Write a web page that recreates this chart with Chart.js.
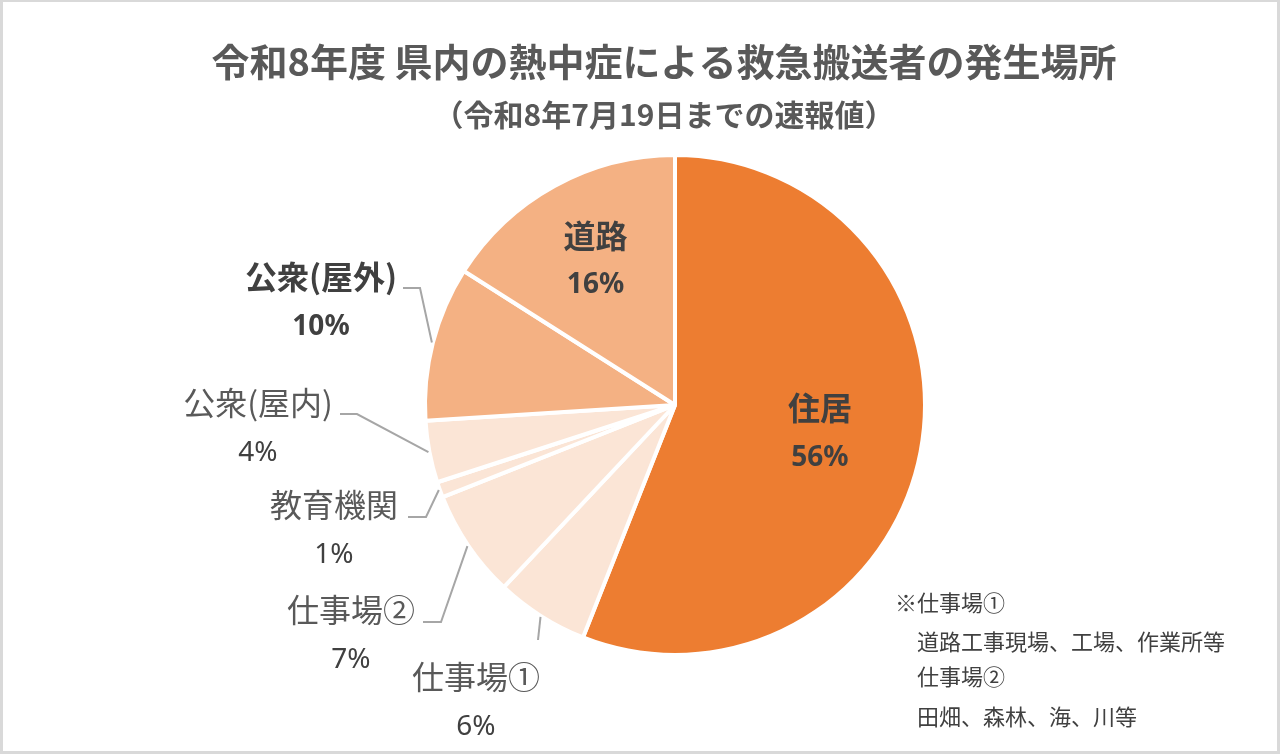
<!DOCTYPE html>
<html><head><meta charset="utf-8">
<script src="https://cdn.jsdelivr.net/npm/chart.js@4"></script>
<style>html,body{margin:0;padding:0;background:#fff}#wrap{width:1280px;height:754px;position:relative}canvas{display:block}</style>
</head><body><div id="wrap"><canvas id="c" width="1280" height="754" style="width:1280px;height:754px"></canvas></div>
<script>
// ---- data ----
const categories = ['住居', '仕事場①', '仕事場②', '教育機関', '公衆(屋内)', '公衆(屋外)', '道路'];
const shares = [56, 6, 7, 1, 4, 10, 16];
const sliceColors = ['#ED7D31', '#FBE5D6', '#FBE5D6', '#FBE5D6', '#FBE5D6', '#F4B183', '#F4B183'];
const titleText = '令和8年度 県内の熱中症による救急搬送者の発生場所';
const subtitleText = '（令和8年7月19日までの速報値）';
const noteLines = ['※仕事場①', '道路工事現場、工場、作業所等', '仕事場②', '田畑、森林、海、川等'];

// ---- label layout (style only) ----
const labelLayout = [
  {inside: true, radial: 0.59, bold: true},
  {x: 476, y: 677, bold: false, leader: [[538, 640]]},
  {x: 351, y: 610, bold: false, leader: [[423, 622], [441, 622]]},
  {x: 334, y: 505, bold: false, leader: [[408, 517], [426, 517]]},
  {x: 258, y: 403, bold: false, leader: [[340, 414], [357, 414]]},
  {x: 321, y: 277, bold: true, leader: [[403, 288], [420, 288]]},
  {inside: true, radial: 0.66, bold: true}
];
const FONT_CJK = '"Noto Sans CJK JP", "Noto Sans", sans-serif';
const FONT_NUM = '"Noto Sans", "Noto Sans CJK JP", sans-serif';

const labelPlugin = {
  id: 'labels',
  beforeDraw(chart) {
    const ctx = chart.ctx;
    ctx.save();
    ctx.fillStyle = '#ffffff';
    ctx.fillRect(0, 0, chart.width, chart.height);
    ctx.fillStyle = '#D9D9D9';
    ctx.fillRect(0, 0, chart.width, 2);
    ctx.fillRect(0, chart.height - 3, chart.width, 3);
    ctx.fillRect(0, 0, 3, chart.height);
    ctx.fillRect(chart.width - 3, 0, 3, chart.height);
    ctx.restore();
  },
  afterDatasetsDraw(chart) {
    const ctx = chart.ctx;
    const meta = chart.getDatasetMeta(0);
    const total = shares.reduce((a, b) => a + b, 0);
    ctx.save();
    ctx.textAlign = 'center';
    ctx.textBaseline = 'middle';
    // title
    ctx.fillStyle = '#595959';
    ctx.font = 'bold 38px ' + FONT_CJK;
    ctx.fillText(titleText, 664, 62);
    ctx.font = 'bold 30px ' + FONT_CJK;
    ctx.fillText(subtitleText, 664, 115);

    meta.data.forEach((arc, i) => {
      const L = labelLayout[i];
      const p = arc.getProps(['x', 'y', 'startAngle', 'endAngle', 'outerRadius'], true);
      const mid = (p.startAngle + p.endAngle) / 2;
      const pct = Math.round(shares[i] / total * 100) + '%';
      let cx, cy;
      if (L.inside) {
        const rr = p.outerRadius * L.radial;
        cx = p.x + Math.cos(mid) * rr;
        cy = p.y + Math.sin(mid) * rr - 25;
      } else {
        cx = L.x; cy = L.y;
        const ex = p.x + Math.cos(mid) * (p.outerRadius + 1);
        const ey = p.y + Math.sin(mid) * (p.outerRadius + 1);
        ctx.strokeStyle = '#A6A6A6';
        ctx.lineWidth = 2;
        ctx.beginPath();
        ctx.moveTo(L.leader[0][0], L.leader[0][1]);
        for (let k = 1; k < L.leader.length; k++) ctx.lineTo(L.leader[k][0], L.leader[k][1]);
        ctx.lineTo(ex, ey);
        ctx.stroke();
      }
      ctx.fillStyle = L.bold ? '#404040' : '#595959';
      ctx.font = (L.bold ? 'bold ' : '') + '32px ' + FONT_CJK;
      ctx.fillText(categories[i], cx, cy);
      ctx.fillStyle = '#404040';
      ctx.font = (L.bold ? 'bold ' : '') + '28px ' + FONT_NUM;
      ctx.fillText(pct, cx, cy + 50);
    });

    ctx.textAlign = 'left';
    ctx.fillStyle = '#404040';
    ctx.font = '22px ' + FONT_CJK;
    const noteX = [895, 917, 917, 917];
    const noteY = [603, 642, 677, 717];
    noteLines.forEach((t, k) => ctx.fillText(t, noteX[k], noteY[k]));
    ctx.restore();
  }
};

new Chart(document.getElementById('c'), {
  type: 'pie',
  data: {
    labels: categories,
    datasets: [{
      data: shares,
      backgroundColor: sliceColors,
      borderColor: '#ffffff',
      borderWidth: 4
    }]
  },
  options: {
    responsive: false,
    animation: false,
    devicePixelRatio: 1,
    layout: {padding: {top: 153, bottom: 97, left: 423, right: 353}},
    plugins: {legend: {display: false}, tooltip: {enabled: false}, title: {display: false}}
  },
  plugins: [labelPlugin]
});
</script>
</body></html>
